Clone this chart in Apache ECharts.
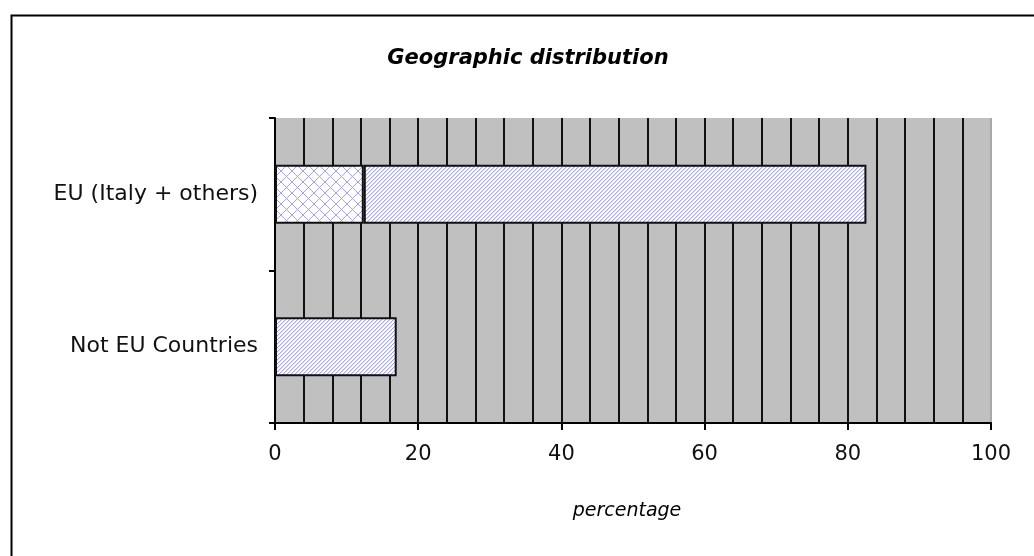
<!DOCTYPE html>
<html>
<head>
<meta charset="utf-8">
<script src="https://cdn.jsdelivr.net/npm/echarts@6/dist/echarts.min.js"></script>
<style>
html,body{margin:0;padding:0;background:#fff;}
#chart{width:1034px;height:556px;}
</style>
</head>
<body>
<div id="chart"></div>
<script>
// ---- data ----
const categories = ['EU (Italy + others)', 'Not EU Countries'];
const italyValues = [12.4, null];
const otherValues = [70.2, 17.0];
const xTicks = [0, 20, 40, 60, 80, 100];

function makeTile(size, fn) {
  const c = document.createElement('canvas');
  c.width = size; c.height = size;
  const ctx = c.getContext('2d');
  ctx.fillStyle = '#ffffff';
  ctx.fillRect(0, 0, size, size);
  for (let x = 0; x < size; x++) {
    for (let y = 0; y < size; y++) {
      const col = fn(x, y);
      if (col) { ctx.fillStyle = col; ctx.fillRect(x, y, 1, 1); }
    }
  }
  return c;
}
const diagTile = makeTile(4, (x, y) => {
  const k = (x + y) % 4;
  return k === 0 ? '#a6a6ff' : (k === 1 ? '#dedeff' : null);
});
const crossTile = makeTile(11, (x, y) => {
  if ((x + y) % 11 === 0 || (x - y + 11) % 11 === 0) return '#a0a0ff';
  return null;
});

const chart = echarts.init(document.getElementById('chart'));
chart.setOption({
  animation: false,
  backgroundColor: '#ffffff',
  title: {
    text: 'Geographic distribution',
    left: 523, top: 43, textAlign: 'center',
    textStyle: { fontFamily: 'DejaVu Sans', fontSize: 21, fontWeight: 'bold', fontStyle: 'italic', color: '#000' }
  },
  graphic: [{
    type: 'rect', left: 9, top: 13, z: -1,
    shape: { width: 1100, height: 700 },
    style: { fill: null, stroke: '#000', lineWidth: 2 }
  }],
  grid: { left: 275, right: 43, top: 118, bottom: 133, show: true, backgroundColor: '#c0c0c0', borderWidth: 0 },
  xAxis: {
    type: 'value', min: xTicks[0], max: xTicks[xTicks.length - 1], interval: 20,
    name: 'percentage', nameLocation: 'middle', nameGap: 79,
    nameTextStyle: { fontFamily: 'DejaVu Sans', fontSize: 19, fontStyle: 'italic', color: '#000', padding: [0, 12, 0, 0] },
    axisLine: { show: true, lineStyle: { color: '#000', width: 2 } },
    axisTick: { show: true, length: 7, lineStyle: { color: '#000', width: 2 } },
    axisLabel: { margin: 21, fontFamily: 'DejaVu Sans', fontSize: 21, color: '#111' },
    splitLine: { show: true, lineStyle: { color: ['#111', '#111', '#111', '#111', '#111', '#a8a8a8'], width: 2 } },
    minorTick: { show: false, splitNumber: 5 },
    minorSplitLine: { show: true, lineStyle: { color: '#111', width: 2 } }
  },
  yAxis: {
    type: 'category', inverse: true, data: categories,
    axisLine: { show: true, lineStyle: { color: '#000', width: 2 } },
    axisTick: { show: true, length: 6, lineStyle: { color: '#000', width: 2 } },
    axisLabel: { margin: 17, fontFamily: 'DejaVu Sans', fontSize: 22, color: '#111' },
    splitLine: { show: false }
  },
  series: [
    {
      name: 'Italy', type: 'bar', stack: 'a', data: italyValues, barWidth: 59,
      itemStyle: { color: { image: crossTile, repeat: 'repeat' }, borderColor: '#111', borderWidth: 2 }
    },
    {
      name: 'Others', type: 'bar', stack: 'a', data: otherValues, barWidth: 59,
      itemStyle: { color: { image: diagTile, repeat: 'repeat' }, borderColor: '#111', borderWidth: 2 }
    }
  ]
});
</script>
</body>
</html>
